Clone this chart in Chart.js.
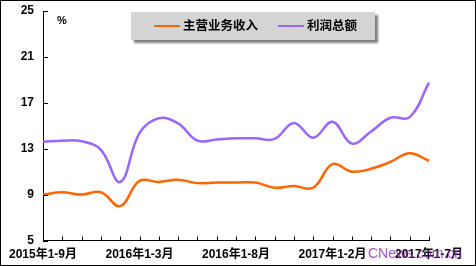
<!DOCTYPE html>
<html>
<head>
<meta charset="utf-8">
<script src="https://cdn.jsdelivr.net/npm/chart.js@4"></script>
<style>
  body { margin:0; background:#fff; }
  #wrap { width:476px; height:266px; position:relative; }
</style>
</head>
<body>
<div id="wrap"><canvas id="lineChart" width="476" height="266"></canvas></div>
<script>
// months, 2015 1-9 .. 2017 1-7
var months = ['2015年1-9月','2015年1-10月','2015年1-11月','2015年1-12月',
  '2016年1-2月','2016年1-3月','2016年1-4月','2016年1-5月','2016年1-6月','2016年1-7月',
  '2016年1-8月','2016年1-9月','2016年1-10月','2016年1-11月','2016年1-12月',
  '2017年1-2月','2017年1-3月','2017年1-4月','2017年1-5月','2017年1-6月','2017年1-7月'];
var revenue = [9.0, 9.2, 9.0, 9.2, 8.0, 10.2, 10.1, 10.3, 10.0, 10.05, 10.05, 10.05, 9.6, 9.75, 9.6,
  11.65, 11.0, 11.25, 11.85, 12.6, 11.95];
var profit = [13.6, 13.7, 13.65, 12.9, 10.1, 14.35, 15.65, 15.2, 13.7, 13.8, 13.9, 13.9, 13.85, 15.25, 13.95,
  15.35, 13.45, 14.5, 15.7, 15.75, 18.75];
var seriesNames = ['主营业务收入','利润总额'];
var yTicks = [5, 9, 13, 17, 21, 25];

var FONT = '"Liberation Sans", Arial, "Noto Sans CJK SC", sans-serif';

var extras = {
  id: 'extras',
  afterDraw: function(chart) {
    var ctx = chart.ctx;
    var xs = chart.scales.x, ys = chart.scales.y;
    ctx.save();
    // inward tick marks
    ctx.strokeStyle = '#000';
    ctx.lineWidth = 1;
    ctx.beginPath();
    for (var i = 0; i < months.length; i++) {
      var px = Math.round(xs.getPixelForValue(i)) + 0.5;
      ctx.moveTo(px, ys.bottom);
      ctx.lineTo(px, ys.bottom - 4);
    }
    yTicks.forEach(function(v) {
      var py = Math.round(ys.getPixelForValue(v)) + 0.5;
      ctx.moveTo(xs.left, py);
      ctx.lineTo(xs.left + 5, py);
    });
    ctx.stroke();

    // unit
    ctx.fillStyle = '#000';
    ctx.font = 'bold 11px ' + FONT;
    ctx.textBaseline = 'middle';
    ctx.textAlign = 'left';
    ctx.fillText('%', 57, 21);

    // legend box with shadow
    ctx.save();
    ctx.shadowColor = 'rgba(0,0,0,0.5)';
    ctx.shadowOffsetX = 3;
    ctx.shadowOffsetY = 3;
    ctx.shadowBlur = 2;
    ctx.fillStyle = '#d4d4d4';
    ctx.fillRect(131, 12, 244, 28);
    ctx.restore();
    var ds = chart.data.datasets;
    var lx = [154, 278];
    ctx.font = 'bold 12.5px ' + FONT;
    ds.forEach(function(d, k) {
      ctx.strokeStyle = d.borderColor;
      ctx.lineWidth = 2;
      ctx.beginPath();
      ctx.moveTo(lx[k], 26);
      ctx.lineTo(lx[k] + 26, 26);
      ctx.stroke();
      ctx.fillStyle = '#000';
      ctx.fillText(d.label, lx[k] + 29, 26.5);
    });

    // watermark
    ctx.font = '14px ' + FONT;
    ctx.fillStyle = 'rgba(140,40,190,0.8)';
    ctx.fillText('CNews.com.cn', 368, 254);

    // outer border
    ctx.strokeStyle = '#000';
    ctx.lineWidth = 1;
    ctx.strokeRect(0.5, 0.5, 475, 265);
    ctx.restore();
  }
};

var chart = new Chart(document.getElementById('lineChart'), {
  type: 'line',
  data: {
    labels: months,
    datasets: [
      {
        label: seriesNames[0],
        data: revenue,
        borderColor: '#ff6600',
        backgroundColor: '#ff6600',
        borderWidth: 2.5,
        pointRadius: 0,
        tension: 0.4,
        fill: false
      },
      {
        label: seriesNames[1],
        data: profit,
        borderColor: '#9966ff',
        backgroundColor: '#9966ff',
        borderWidth: 2.5,
        pointRadius: 0,
        tension: 0.4,
        fill: false
      }
    ]
  },
  options: {
    responsive: false,
    animation: false,
    events: [],
    layout: { padding: { top: 11, right: 47, left: 0, bottom: 0 } },
    plugins: {
      legend: { display: false },
      tooltip: { enabled: false }
    },
    scales: {
      x: {
        offset: false,
        grid: { display: false, drawTicks: false },
        border: { display: true, color: '#000', width: 1 },
        afterFit: function(s) { s.height = 25.5; },
        ticks: {
          autoSkip: false,
          maxRotation: 0,
          padding: 7,
          color: '#000',
          font: { family: FONT, size: 12, weight: 'bold' },
          callback: function(v, i) { return i % 5 === 0 ? months[i] : ''; }
        }
      },
      y: {
        min: 5,
        max: 25,
        grid: { display: false, drawTicks: false },
        border: { display: true, color: '#000', width: 1 },
        afterFit: function(s) { s.width = 43; s.paddingTop = 0; },
        ticks: {
          stepSize: 4,
          padding: 9,
          color: '#000',
          font: { family: FONT, size: 12, weight: 'bold' }
        }
      }
    }
  },
  plugins: [extras]
});
</script>
</body>
</html>
